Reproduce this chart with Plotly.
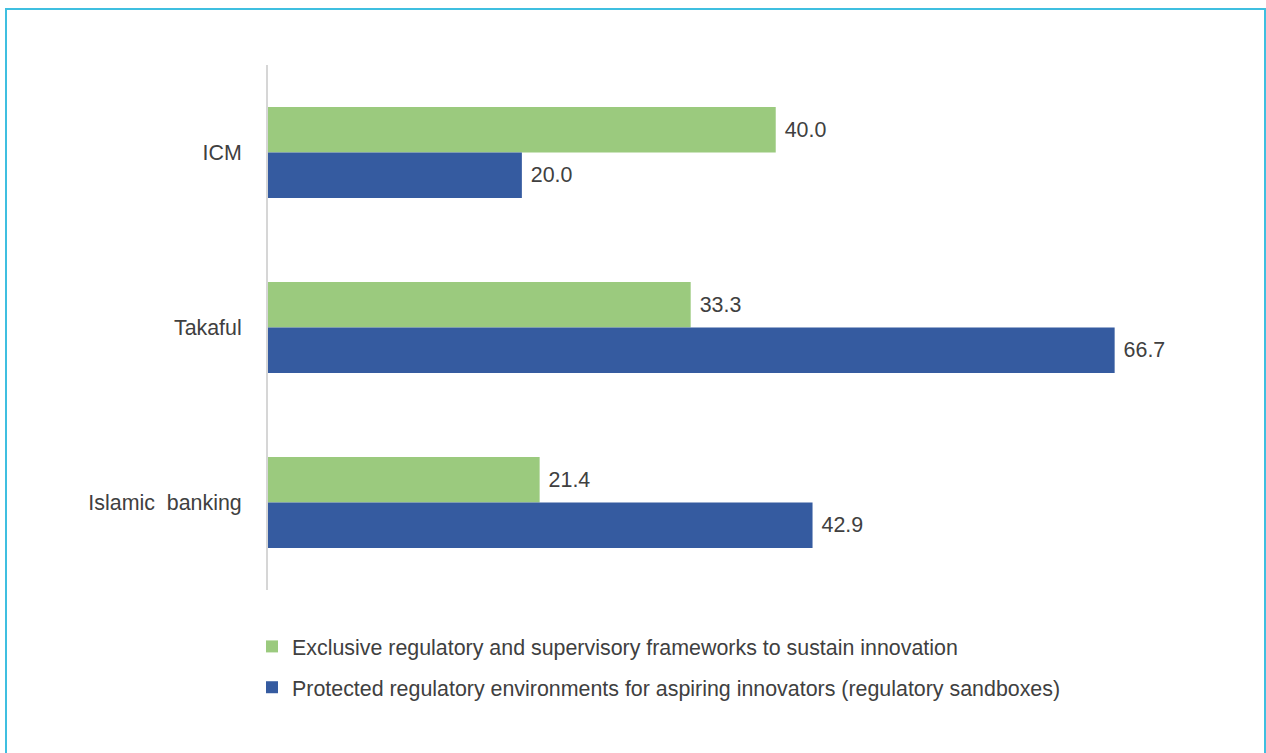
import plotly.graph_objects as go

categories = ["ICM", "Takaful", "Islamic\u00a0 banking"]
exclusive_frameworks = [40.0, 33.3, 21.4]
regulatory_sandboxes = [20.0, 66.7, 42.9]
series_names = [
    "Exclusive regulatory and supervisory frameworks to sustain innovation",
    "Protected regulatory environments for aspiring innovators (regulatory sandboxes)",
]

GREEN = "#9BCA7E"
BLUE = "#355BA0"
TEXT = "#404040"
FONT = "Liberation Sans, Arial, sans-serif"
FS = 21.4

W, H = 1266, 753
L, R, T, B = 268, 46, 65, 163
pw, ph = W - L - R, H - T - B

fig = go.Figure()
for name, vals, col, grp in [
    (series_names[0], exclusive_frameworks, GREEN, "a"),
    (series_names[1], regulatory_sandboxes, BLUE, "b"),
]:
    fig.add_trace(go.Bar(
        y=categories, x=vals, orientation="h", name=name,
        marker=dict(color=col, line=dict(width=0)),
        text=[f" {v:.1f}" for v in vals], textposition="outside",
        textfont=dict(size=FS, color=TEXT, family=FONT),
        cliponaxis=False, legendgroup=grp,
    ))

def px_x(v):
    return (v - L) / pw

def px_y(v):
    return 1 - (v - T) / ph

fig.update_layout(
    width=W, height=H,
    margin=dict(l=L, r=R, t=T, b=B, autoexpand=False),
    paper_bgcolor="white", plot_bgcolor="white",
    barmode="group", bargap=0.48, bargroupgap=0,
    font=dict(family=FONT, size=FS, color=TEXT),
    showlegend=True,
    legend=dict(
        x=px_x(252), y=px_y(626), xanchor="left", yanchor="top",
        orientation="v", traceorder="grouped", tracegroupgap=10,
        font=dict(size=FS, color=TEXT, family=FONT),
        itemwidth=30, bgcolor="rgba(0,0,0,0)",
    ),
    xaxis=dict(range=[0, 75], visible=False, fixedrange=True),
    yaxis=dict(
        autorange="reversed", showline=True, linecolor="#D6D6D6", linewidth=2,
        showgrid=False, zeroline=False, ticks="", ticklabelstandoff=20,
        tickfont=dict(size=FS, color=TEXT, family=FONT),
    ),
    shapes=[dict(
        type="rect", xref="paper", yref="paper",
        x0=px_x(6), x1=px_x(1265), y0=px_y(770), y1=px_y(9),
        line=dict(color="#3FBFE0", width=2), fillcolor="rgba(0,0,0,0)", layer="below",
    )],
)

fig.write_html("out.html")
